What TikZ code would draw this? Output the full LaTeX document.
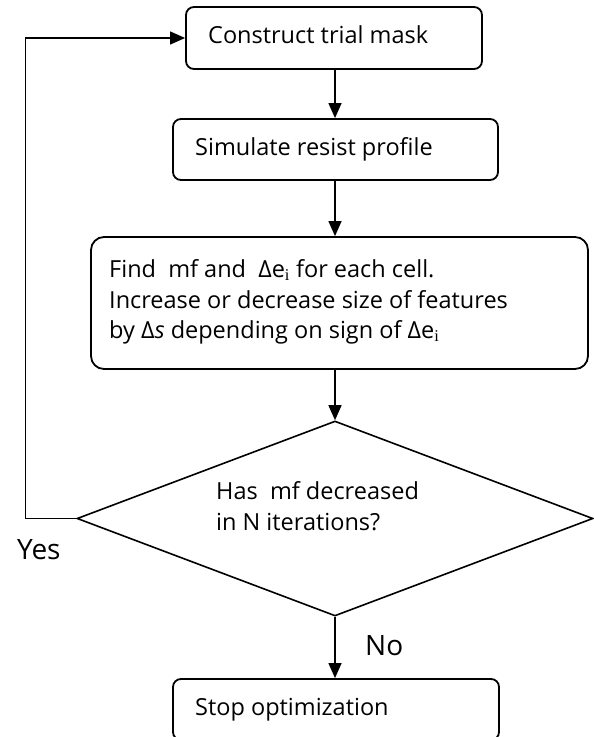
\documentclass[tikz,border=0pt]{standalone}
\usepackage{fontspec}
\setmainfont{Open Sans}
\newfontfamily\serifi{Liberation Serif}
\usetikzlibrary{shapes.geometric,arrows.meta}
\begin{document}
\begin{tikzpicture}[x=1pt,y=-1pt,
  box/.style={draw=black,line width=1.8pt,rounded corners=8pt,inner sep=0pt},
  lbl/.style={anchor=base west,inner sep=0pt,font=\fontsize{23.5}{30}\selectfont},
  yn/.style={anchor=base west,inner sep=0pt,font=\fontsize{28}{32}\selectfont},
  arr/.style={line width=1.3pt,-{Triangle[length=15pt,width=13pt]}},
  dec/.style={draw=black,diamond,line width=1.6pt,inner sep=0pt,minimum width=516pt,minimum height=195pt}
]
\useasboundingbox (0,0) rectangle (594,737);
\clip (0,0) rectangle (594,737);

\coordinate (col) at (335,0);

\node[box,minimum width=296pt,minimum height=62pt] (b1) at (334,38) {};
\node[lbl] (t1) at (208,43.5) {Construct trial mask};

\node[box,minimum width=325pt,minimum height=61pt] (b2) at (335.5,149.5) {};
\node[lbl] (t2) at (195,155) {Simulate resist profile};

\node[box,rounded corners=13pt,minimum width=497pt,minimum height=132pt] (b3) at (339.5,303) {};
\node[lbl] (t3a) at (109,277) {Find\ \ mf and\ \ Δe\textsubscript{\serifi i} for each cell.};
\node[lbl] (t3b) at (109,308) {Increase or decrease size of features};
\node[lbl] (t3c) at (109,338) {by Δ\textit{s} depending on sign of Δe\textsubscript{\serifi i}};

\node[dec] (d) at (335,518.5) {};
\node[lbl] (t4a) at (216,499) {Has\ \ mf decreased};
\node[lbl] (t4b) at (216,530) {in N iterations?};

\node[box,minimum width=326pt,minimum height=61pt] (b5) at (336,709.5) {};
\node[lbl] (t5) at (195,715) {Stop optimization};

\node[yn] (yes) at (17,559) {Yes};
\node[yn] (no) at (365,655) {No};

\draw[arr] (col |- b1.south) -- (col |- b2.north);
\draw[arr] (col |- b2.south) -- (col |- b3.north);
\draw[arr] (col |- b3.south) -- (d.north);
\draw[arr] (d.south) -- (d.south |- b5.north);
\draw[arr] (d.west) -- ++(-51,0) |- (b1.west);
\end{tikzpicture}
\end{document}
